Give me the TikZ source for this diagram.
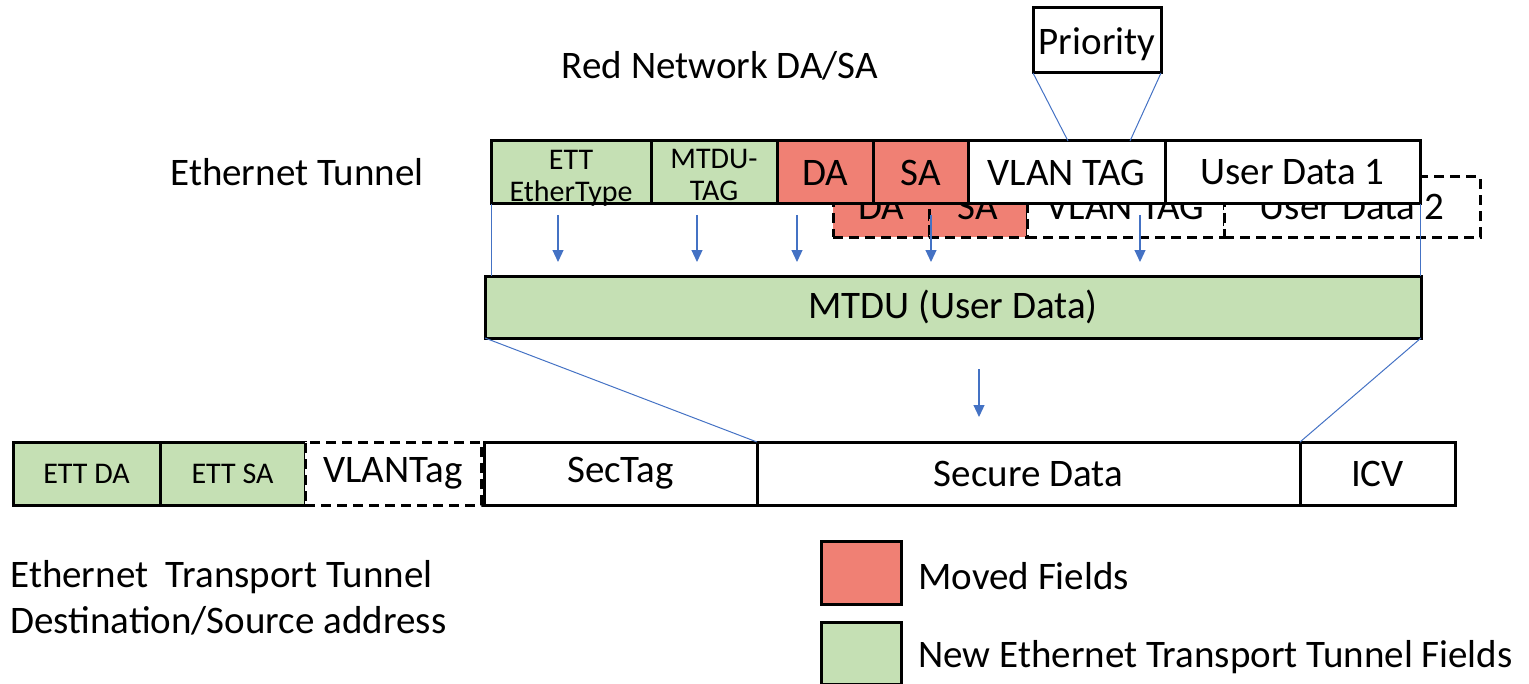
\documentclass[tikz,border=0pt]{standalone}
\usepackage{fontspec}
\setmainfont{Carlito}
\usetikzlibrary{arrows.meta, positioning, calc}
\definecolor{ettgreen}{RGB}{197,224,180}
\definecolor{movedred}{RGB}{240,128,116}
\definecolor{linkblue}{RGB}{68,114,196}

\begin{document}
\begin{tikzpicture}[
    x=0.5pt, y=-0.5pt,
    field/.style={draw, line width=1.5pt, fill=white, inner sep=0pt, outer sep=0pt,
                  minimum height=31.5pt, font=\fontsize{19.5}{23}\selectfont},
    smalltxt/.style={font=\fontsize{15}{16}\selectfont, align=center, inner sep=0pt},
    ghost/.style={field, dash pattern=on 5pt off 3pt, minimum height=30pt},
    newf/.style={fill=ettgreen},
    moved/.style={fill=movedred},
    link/.style={draw=linkblue, line width=0.5pt},
    arr/.style={linkblue, line width=0.6pt, -{Triangle[width=5.5pt,length=6pt]}},
    txt/.style={font=\fontsize{19.5}{23}\selectfont, inner sep=0pt}
]

\useasboundingbox (0,0) rectangle (1529,684);

% Headings
\node[txt] (rednet) at (720,66) {Red Network DA/SA};
\node[txt, anchor=west] (tunlbl) at (170,172) {Ethernet Tunnel};

% Second frame (dashed, behind)
\node[ghost, moved, minimum width=48pt] (da2) at (881,207) {DA};
\node[ghost, moved, minimum width=49pt] (sa2) at (978,207) {SA};
\node[ghost, minimum width=98.5pt] (vlan2) at (1125.5,207) {VLAN TAG};
\node[ghost, minimum width=128pt] (ud2) at (1352,207) {User Data 2};

% Tunnel frame
\node[field, newf, minimum width=80pt] (ett) at (571,172.5) {};
\node[smalltxt] (ettlbl) at (571,178) {ETT\\EtherType};
\node[field, newf, minimum width=63pt] (mtag) at (714,172.5) {};
\node[smalltxt] (mtaglbl) at (714,175) {MTDU-\\TAG};
\node[field, moved, minimum width=48pt] (da) at (825,172.5) {DA};
\node[field, moved, minimum width=47.5pt] (sa) at (920.5,172.5) {SA};
\node[field, minimum width=98.5pt] (vlan) at (1066.5,172.5) {VLAN TAG};
\node[field, minimum width=127.5pt] (ud1) at (1292.5,172.5) {User Data 1};

% Priority field of the tag
\node[field, minimum width=64pt, minimum height=32.5pt] (prio) at (1097,40.5)
    {\raisebox{-7pt}[0pt][0pt]{Priority}};
\draw[link] (prio.south west) -- ([xshift=0.75pt]vlan.north);
\draw[link] (prio.south east) -- ([xshift=31.75pt]vlan.north);

% MTDU
\node[field, newf, minimum width=468pt, minimum height=31pt] (mtdu) at (953,307) {MTDU (User Data)};
\draw[link] (ett.south west) -- (ett.south west |- mtdu.north);
\draw[link] (ud1.south east) -- (ud1.south east |- mtdu.north);

\foreach \x in {558,697,797,931,1140} {
    \draw[arr] (\x,215) -- (\x,262);
}

% Transport frame
\node[field, newf, smalltxt, minimum width=73.5pt] (ettda) at (86.5,473.5) {ETT DA};
\node[field, newf, smalltxt, minimum width=72.5pt] (ettsa) at (232.5,473.5) {ETT SA};
\node[field, dash pattern=on 5pt off 3pt, minimum width=88pt] (vtag) at (393,473.5) {VLANTag};
\node[field, minimum width=136.5pt] (sectag) at (620.5,473.5) {SecTag};
\node[field, minimum width=271.5pt] (secdata) at (1028.5,473.5) {Secure Data};
\node[field, minimum width=77.5pt] (icv) at (1377.5,473.5) {ICV};

\draw[link] (mtdu.south west) -- (sectag.north east);
\draw[link] (mtdu.south east) -- (secdata.north east);
\draw[arr] (979,369) -- (979,417);

\node[txt, anchor=west, align=left] (ettnote) at (10,598)
    {Ethernet\ \ Transport Tunnel\\Destination/Source address};

% Key
\node[field, moved, minimum width=40pt] (keymoved) at (861,572.5) {};
\node[txt, anchor=west] (keymovedtxt) at (918,576) {Moved Fields};
\node[field, newf, minimum width=40pt, minimum height=31pt] (keynew) at (861,653) {};
\node[txt, anchor=west] (keynewtxt) at (918,657) {New Ethernet Transport Tunnel Fields};

\end{tikzpicture}
\end{document}
